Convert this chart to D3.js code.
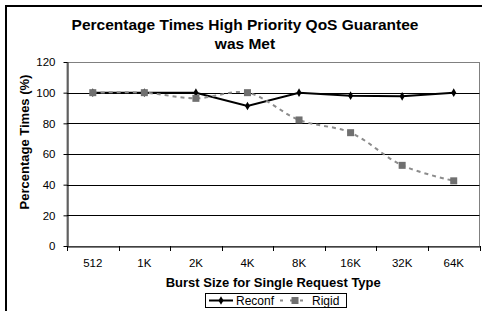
<!DOCTYPE html>
<html><head><meta charset="utf-8">
<script src="https://cdn.jsdelivr.net/npm/d3@7"></script>
<style>body{margin:0;background:#fff}svg{display:block;font-family:"Liberation Sans",Arial,sans-serif}</style>
</head><body><svg id="c" width="482" height="311"></svg>
<script>
const categories = ["512","1K","2K","4K","8K","16K","32K","64K"];
const reconf = [100,100,100,91.3,100,98,97.6,100];
const rigid = [100,100,96.3,100,82.2,73.9,52.6,42.5];
const yTicks = [0,20,40,60,80,100,120];
const titleLines = ["Percentage Times High Priority QoS Guarantee","was Met"];
const xTitle = "Burst Size for Single Request Type";
const yTitle = "Percentage Times (%)";
const seriesNames = ["Reconf","Rigid"];

const svg = d3.select("#c");
const L=67,R=479.5,T=62,B=246;
const x = d3.scaleBand().domain(categories).range([L,R]);
const y = d3.scaleLinear().domain([0,120]).range([B,T]);
const cx = i => x(categories[i])+x.bandwidth()/2;

svg.append("rect").attr("x",6).attr("y",6).attr("width",500).attr("height",320)
  .attr("fill","none").attr("stroke","#000").attr("stroke-width",2);

svg.append("rect").attr("x",L).attr("y",T+0.5).attr("width",R-L).attr("height",B-T)
  .attr("fill","none").attr("stroke","#808080").attr("stroke-width",1);
svg.append("g").selectAll("line").data(yTicks.filter(d=>d>0&&d<120)).join("line")
  .attr("x1",L).attr("x2",R).attr("y1",d=>Math.round(y(d))+0.5).attr("y2",d=>Math.round(y(d))+0.5)
  .attr("stroke","#000").attr("stroke-width",1);

const ya = svg.append("g").attr("transform",`translate(${L+0.5},0)`)
  .call(d3.axisLeft(y).tickValues(yTicks).tickSize(4).tickPadding(8).tickSizeOuter(0));
ya.select(".domain").attr("stroke","#000");
ya.selectAll(".tick line").attr("stroke","#000");
ya.selectAll(".tick text").attr("font-size","11.5px").attr("fill","#000")
  .attr("font-family","Liberation Sans, Arial, sans-serif");

const xa = svg.append("g").attr("transform",`translate(0,${B+0.5})`)
  .call(d3.axisBottom(x).tickSize(0).tickPadding(12).tickSizeOuter(0));
xa.select(".domain").attr("stroke","#000");
xa.selectAll(".tick text").attr("font-size","11.5px").attr("fill","#000")
  .attr("font-family","Liberation Sans, Arial, sans-serif");
svg.append("g").selectAll("line").data(categories.map(c=>x(c)).concat([R])).join("line")
  .attr("x1",d=>Math.round(d)+0.5).attr("x2",d=>Math.round(d)+0.5).attr("y1",B).attr("y2",B+5)
  .attr("stroke","#000");

// reconf series (drawn first, beneath)
const cline = d3.line().x((d,i)=>cx(i)).y(d=>y(d));
svg.append("path").attr("d",cline(reconf)).attr("fill","none").attr("stroke","#000").attr("stroke-width",2);
const dia = d3.symbol().type(d3.symbolDiamond).size(22);
svg.append("g").selectAll("path").data(reconf).join("path")
  .attr("d",dia).attr("transform",(d,i)=>`translate(${cx(i)},${y(d)})`).attr("fill","#000");

// rigid series on top
const rline = d3.line().x((d,i)=>cx(i)).y(d=>y(d)).curve(d3.curveCatmullRom);
svg.append("path").attr("d",rline(rigid)).attr("fill","none").attr("stroke","#8c8c8c")
  .attr("stroke-width",2).attr("stroke-dasharray","4,4");
svg.append("g").selectAll("rect").data(rigid).join("rect")
  .attr("x",(d,i)=>cx(i)-3.5).attr("y",d=>y(d)-3.5)
  .attr("width",7).attr("height",7).attr("fill","#707070");

svg.append("g").selectAll("text").data(titleLines).join("text")
  .attr("x",245).attr("y",(d,i)=>30+i*19).attr("text-anchor","middle")
  .attr("font-weight","bold").attr("font-size","15.5px").text(d=>d);
svg.append("text").attr("x",(L+R)/2).attr("y",287).attr("text-anchor","middle")
  .attr("font-weight","bold").attr("font-size","13px").text(xTitle);
svg.append("text").attr("transform","translate(29,142) rotate(-90)").attr("text-anchor","middle")
  .attr("font-weight","bold").attr("font-size","13px").text(yTitle);

const lg = svg.append("g");
lg.append("rect").attr("x",205.5).attr("y",293.5).attr("width",141).attr("height",14)
  .attr("fill","#fff").attr("stroke","#000");
lg.append("line").attr("x1",209).attr("x2",233).attr("y1",300.5).attr("y2",300.5).attr("stroke","#000").attr("stroke-width",2);
lg.append("path").attr("d",dia).attr("transform","translate(221,300.5)").attr("fill","#000");
lg.append("text").attr("x",236).attr("y",305).attr("font-size","12px").text(seriesNames[0]);
lg.append("line").attr("x1",280).attr("x2",310).attr("y1",300.5).attr("y2",300.5).attr("stroke","#8c8c8c")
  .attr("stroke-width",2).attr("stroke-dasharray","3,7");
lg.append("rect").attr("x",291.5).attr("y",297).attr("width",7).attr("height",7).attr("fill","#707070");
lg.append("text").attr("x",312).attr("y",305).attr("font-size","12px").text(seriesNames[1]);
</script></body></html>
